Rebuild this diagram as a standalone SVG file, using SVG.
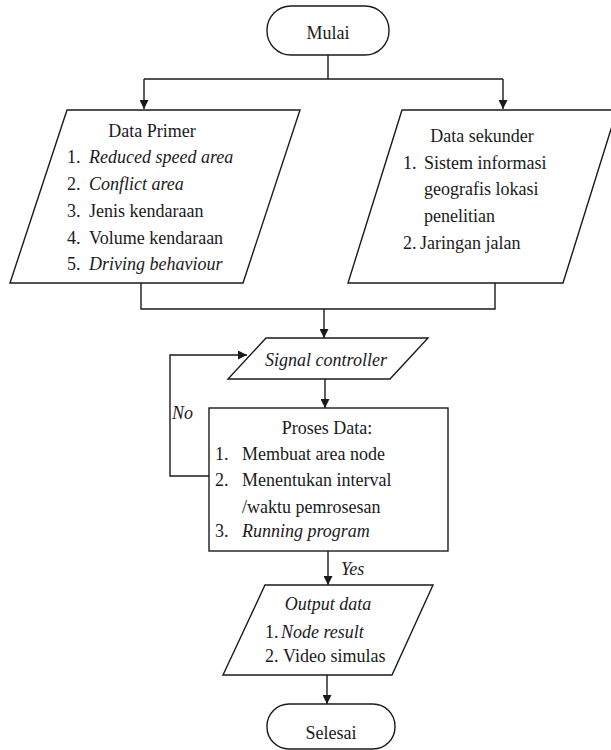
<svg xmlns="http://www.w3.org/2000/svg" width="611" height="750" viewBox="0 0 611 750">
<defs>
<marker id="ah" viewBox="0 0 10 10" refX="10" refY="5" markerWidth="9" markerHeight="9" markerUnits="userSpaceOnUse" orient="auto">
<path d="M0,0 L10,5 L0,10 Z" fill="#1a1a1a"/>
</marker>
<style>
.s{fill:#fff;stroke:#1a1a1a;stroke-width:1.4}
.c{fill:none;stroke:#1a1a1a;stroke-width:1.4}
text{font-family:'Liberation Serif',Tinos,'Times New Roman','DejaVu Serif',serif;font-size:18px;fill:#1a1a1a}
.i{font-style:italic}
.m{text-anchor:middle}
</style>
</defs>
<rect width="611" height="750" fill="#fff"/>
<g id="connectors">
<path class="c" d="M328,55 V79"/>
<path class="c" d="M144,79 H503"/>
<path class="c" d="M144,79 V109" marker-end="url(#ah)"/>
<path class="c" d="M503,79 V109" marker-end="url(#ah)"/>
<path class="c" d="M141,283 V309 H495 V283"/>
<path class="c" d="M324,309 V338" marker-end="url(#ah)"/>
<path class="c" d="M325,379 V408" marker-end="url(#ah)"/>
<path class="c" d="M209,476 H170 V355 H247" marker-end="url(#ah)"/>
<path class="c" d="M328,551 V585" marker-end="url(#ah)"/>
<path class="c" d="M327,675 V704" marker-end="url(#ah)"/>
<text class="i" x="172" y="419">No</text>
<text class="i" x="341" y="575">Yes</text>
</g>
<g id="mulai">
<rect class="s" x="267" y="6" width="122" height="49" rx="24"/>
<text class="m" x="328" y="39">Mulai</text>
</g>
<g id="data-primer">
<polygon class="s" points="67,110 300,110 243,283 10,283"/>
<text class="m" x="152" y="137">Data Primer</text>
<text x="67" y="163">1.</text><text class="i" x="89" y="163">Reduced speed area</text>
<text x="67" y="190">2.</text><text class="i" x="89" y="190">Conflict area</text>
<text x="67" y="217">3.</text><text x="89" y="217">Jenis kendaraan</text>
<text x="67" y="244">4.</text><text x="89" y="244">Volume kendaraan</text>
<text x="67" y="270">5.</text><text class="i" x="89" y="270">Driving behaviour</text>
</g>
<g id="data-sekunder">
<polygon class="s" points="402,110 617,110 563,283 348,283"/>
<text class="m" x="482" y="142">Data sekunder</text>
<text x="403" y="169">1.</text><text x="424" y="169">Sistem informasi</text>
<text x="424" y="195">geografis lokasi</text>
<text x="424" y="222">penelitian</text>
<text x="403" y="249">2.</text><text x="420" y="249">Jaringan jalan</text>
</g>
<g id="signal-controller">
<polygon class="s" points="266,338 428,338 390,379 228,379"/>
<text class="i m" x="326" y="366">Signal controller</text>
</g>
<g id="proses-data">
<rect class="s" x="209" y="408" width="239" height="143"/>
<text class="m" x="327" y="434">Proses Data:</text>
<text x="215" y="460">1.</text><text x="242" y="460">Membuat area node</text>
<text x="215" y="486">2.</text><text x="242" y="486">Menentukan interval</text>
<text x="242" y="513">/waktu pemrosesan</text>
<text x="215" y="537">3.</text><text class="i" x="242" y="537">Running program</text>
</g>
<g id="output-data">
<polygon class="s" points="265,585 433,585 392,675 223,675"/>
<text class="i m" x="328" y="610">Output data</text>
<text x="265" y="638">1.</text><text class="i" x="281" y="638">Node result</text>
<text x="265" y="662">2.</text><text x="283" y="662">Video simulas</text>
</g>
<g id="selesai">
<rect class="s" x="267" y="704" width="128" height="45" rx="22"/>
<text class="m" x="331" y="739">Selesai</text>
</g>
</svg>
